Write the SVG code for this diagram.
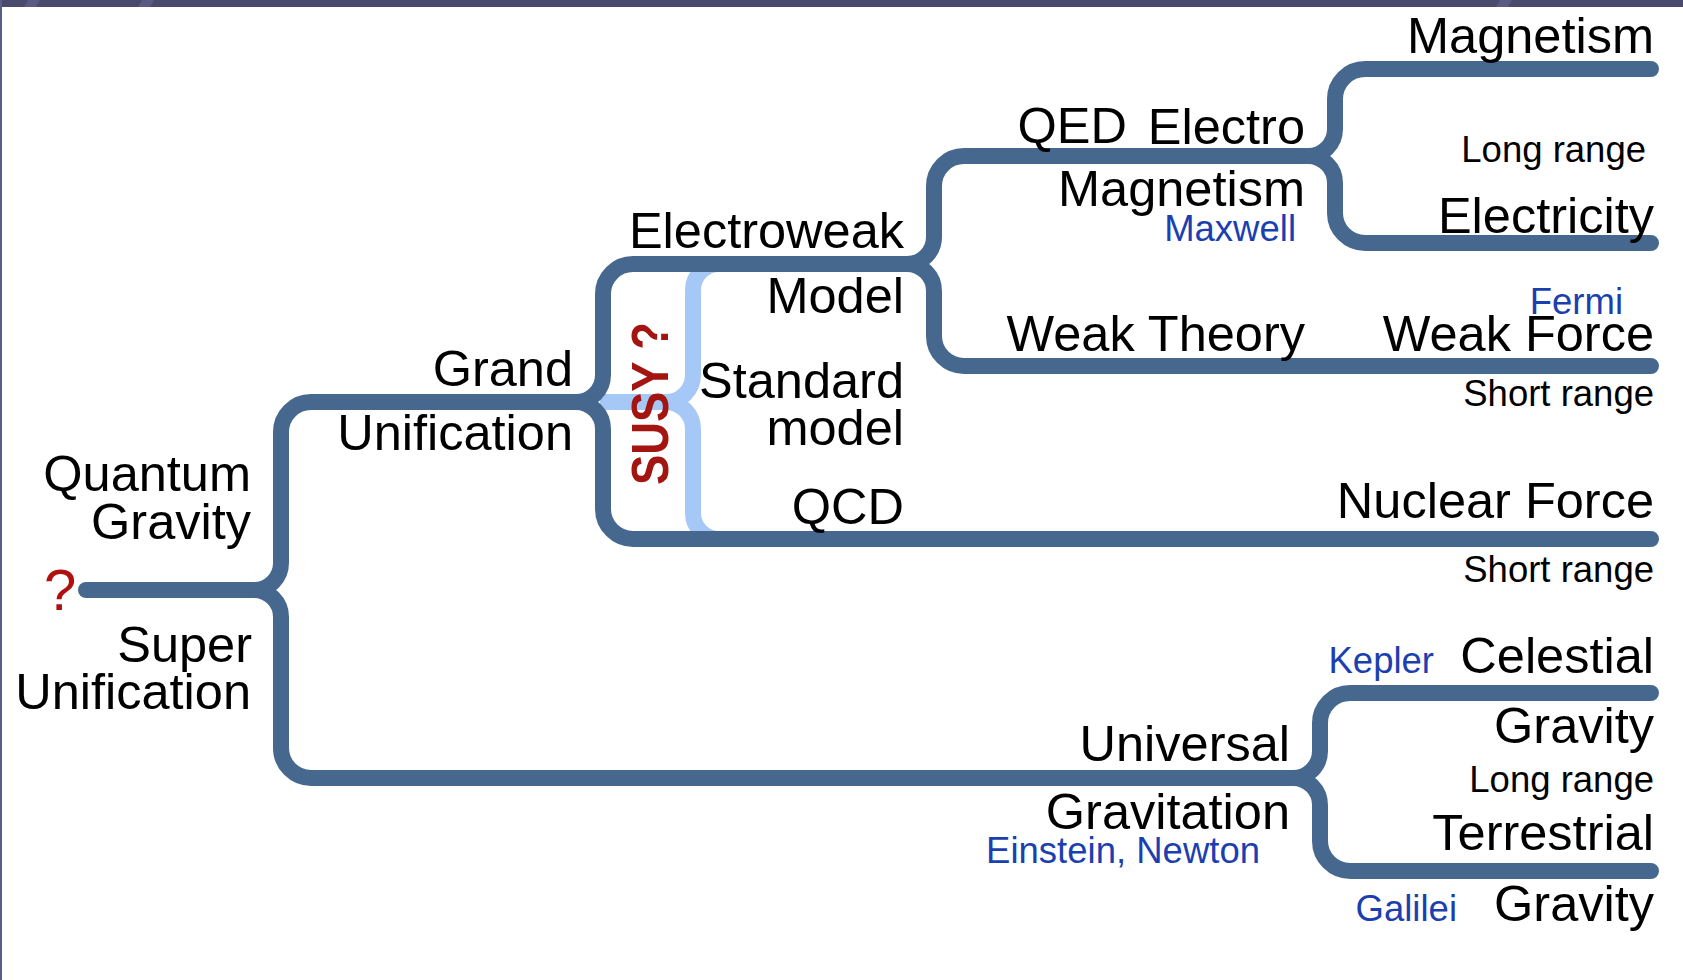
<svg xmlns="http://www.w3.org/2000/svg" width="1683" height="980" viewBox="0 0 1683 980">
  <style>
    .branch { fill: none; stroke: #46688f; stroke-width: 16; stroke-linecap: round; stroke-linejoin: round; }
    .susy { fill: none; stroke: #a6c8f7; stroke-width: 16; stroke-linecap: butt; stroke-linejoin: round; }
    text { font-family: "Liberation Sans", Arial, sans-serif; fill: #000; }
    .big { font-size: 50.5px; text-anchor: end; }
    .small { font-size: 36.5px; text-anchor: end; }
    .name { font-size: 36.5px; text-anchor: end; fill: #1c3fb0; }
  </style>

  <!-- slide frame -->
  <rect x="0" y="0" width="1683" height="980" fill="#ffffff"/>
  <rect x="0" y="0" width="1683" height="7" fill="#4a4a6e"/>
  <g fill="#5a5a82">
    <polygon points="28,0 40,0 36,7 24,7"/>
    <polygon points="142,0 154,0 150,7 138,7"/>
    <polygon points="1500,0 1512,0 1508,7 1496,7"/>
  </g>
  <rect x="0" y="0" width="2" height="980" fill="#5b5b8c"/>

  <!-- connectors: light SUSY brace first, dark branches on top -->
  <g id="connectors">
    <path class="susy" d="M 600 402 H 666 A 27 27 0 0 0 693 375 V 290 A 26 26 0 0 1 719 264 H 760"/>
    <path class="susy" d="M 666 402 A 27 27 0 0 1 693 429 V 513 A 26 26 0 0 0 719 539 H 760"/>

    <!-- root -->
    <path class="branch" d="M 86 590 H 254"/>
    <!-- quantum gravity / super unification split -->
    <path class="branch" d="M 254 590 A 27 27 0 0 0 281 563 V 432 A 30 30 0 0 1 311 402 H 576"/>
    <path class="branch" d="M 254 590 A 27 27 0 0 1 281 617 V 748 A 30 30 0 0 0 311 778 H 1293"/>
    <!-- grand unification split -->
    <path class="branch" d="M 576 402 A 27 27 0 0 0 603 375 V 294 A 30 30 0 0 1 633 264 H 907"/>
    <path class="branch" d="M 576 402 A 27 27 0 0 1 603 429 V 509 A 30 30 0 0 0 633 539 H 1651"/>
    <!-- electroweak split -->
    <path class="branch" d="M 907 264 A 27 27 0 0 0 934 237 V 186 A 30 30 0 0 1 964 156 H 1308"/>
    <path class="branch" d="M 907 264 A 27 27 0 0 1 934 291 V 336 A 30 30 0 0 0 964 366 H 1651"/>
    <!-- electromagnetism split -->
    <path class="branch" d="M 1308 156 A 27 27 0 0 0 1335 129 V 99 A 30 30 0 0 1 1365 69 H 1651"/>
    <path class="branch" d="M 1308 156 A 27 27 0 0 1 1335 183 V 213 A 30 30 0 0 0 1365 243 H 1651"/>
    <!-- gravitation split -->
    <path class="branch" d="M 1293 778 A 27 27 0 0 0 1320 751 V 723 A 30 30 0 0 1 1350 693 H 1651"/>
    <path class="branch" d="M 1293 778 A 27 27 0 0 1 1320 805 V 841 A 30 30 0 0 0 1350 871 H 1651"/>
  </g>

  <g id="root">
    <text x="44" y="610" style="font-size:58px; fill:#b01010">?</text>
  </g>
  <g id="quantum-gravity">
    <text class="big" x="251" y="491">Quantum</text>
    <text class="big" x="251" y="539">Gravity</text>
  </g>
  <g id="super-unification">
    <text class="big" x="252" y="662">Super</text>
    <text class="big" x="251" y="709">Unification</text>
  </g>
  <g id="grand-unification">
    <text class="big" x="573" y="386">Grand</text>
    <text class="big" x="573" y="450">Unification</text>
  </g>
  <g id="susy">
    <text transform="translate(668,485) rotate(-90)" textLength="163" lengthAdjust="spacingAndGlyphs" style="font-size:52px; font-weight:bold; fill:#a31510">SUSY ?</text>
  </g>
  <g id="electroweak">
    <text class="big" x="904" y="248">Electroweak</text>
    <text class="big" x="904" y="313">Model</text>
  </g>
  <g id="standard-model">
    <text class="big" x="904" y="398">Standard</text>
    <text class="big" x="904" y="445">model</text>
  </g>
  <g id="qcd">
    <text class="big" x="904" y="524">QCD</text>
  </g>
  <g id="qed">
    <text class="big" x="1127" y="143">QED</text>
    <text class="big" x="1305" y="144">Electro</text>
    <text class="big" x="1305" y="206">Magnetism</text>
    <text class="name" x="1296" y="241">Maxwell</text>
  </g>
  <g id="weak-theory">
    <text class="big" x="1305" y="351">Weak Theory</text>
  </g>
  <g id="magnetism">
    <text class="big" x="1654" y="53">Magnetism</text>
    <text class="small" x="1646" y="162">Long range</text>
  </g>
  <g id="electricity">
    <text class="big" x="1654" y="233">Electricity</text>
  </g>
  <g id="weak-force">
    <text class="name" x="1623" y="314">Fermi</text>
    <text class="big" x="1654" y="351">Weak Force</text>
    <text class="small" x="1654" y="406">Short range</text>
  </g>
  <g id="nuclear-force">
    <text class="big" x="1654" y="518">Nuclear Force</text>
    <text class="small" x="1654" y="582">Short range</text>
  </g>
  <g id="universal-gravitation">
    <text class="big" x="1290" y="761">Universal</text>
    <text class="big" x="1290" y="829">Gravitation</text>
    <text class="name" x="1260" y="863">Einstein, Newton</text>
  </g>
  <g id="celestial-gravity">
    <text class="name" x="1434" y="673">Kepler</text>
    <text class="big" x="1654" y="673">Celestial</text>
    <text class="big" x="1654" y="743">Gravity</text>
    <text class="small" x="1654" y="792">Long range</text>
  </g>
  <g id="terrestrial-gravity">
    <text class="big" x="1654" y="850">Terrestrial</text>
    <text class="name" x="1457" y="921">Galilei</text>
    <text class="big" x="1654" y="921">Gravity</text>
  </g>
</svg>
